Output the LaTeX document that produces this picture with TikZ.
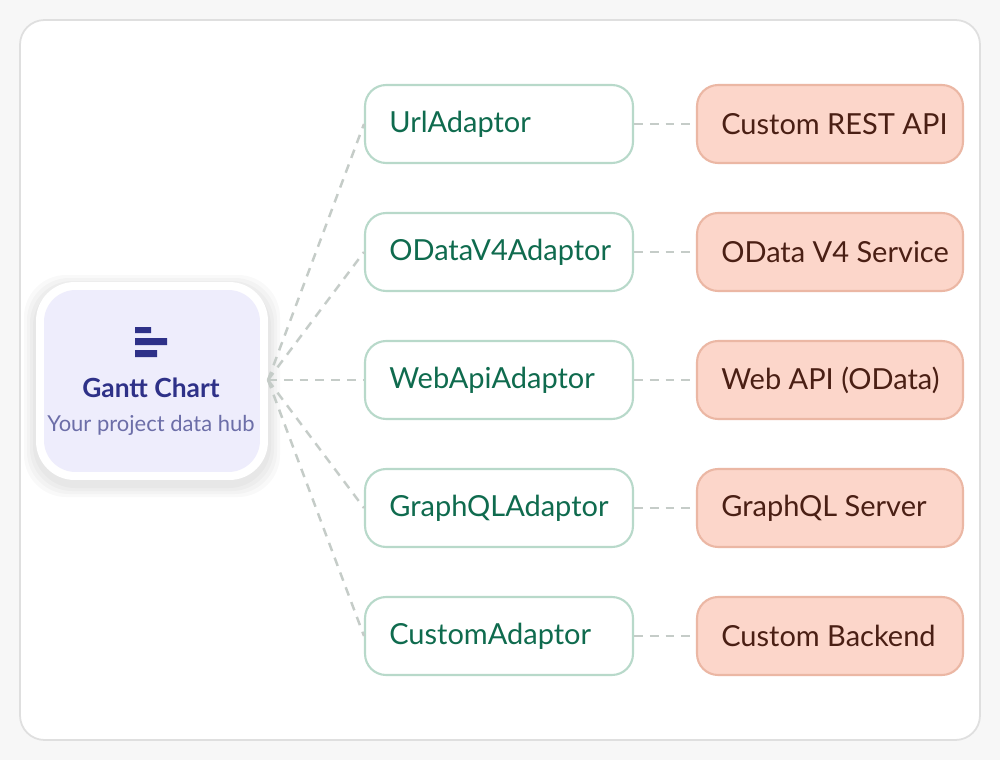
\documentclass[tikz,border=0pt]{standalone}
\usepackage{fontspec}
\setmainfont{Lato}
\usetikzlibrary{positioning}
\definecolor{hubfill}{HTML}{EEEDFC}
\definecolor{navy}{HTML}{2E3188}
\definecolor{hubsub}{HTML}{6C6EA8}
\definecolor{adline}{HTML}{B8D9CA}
\definecolor{adtext}{HTML}{0F6B4E}
\definecolor{befill}{HTML}{FCD6CA}
\definecolor{beline}{HTML}{EBB7A4}
\definecolor{betext}{HTML}{4A1F14}
\definecolor{dash}{HTML}{C5CCC8}

\begin{document}
\begin{tikzpicture}[x=0.02cm,y=-0.02cm,% pixel grid, y downwards
		every node/.style={font=\fontsize{16.5}{19}\selectfont},
		adaptor/.style={rectangle,rounded corners=12pt,draw=adline,line width=1.2pt,fill=white,
			minimum width=5.36cm,minimum height=1.56cm},
		backend/.style={rectangle,rounded corners=12pt,draw=beline,line width=1.2pt,fill=befill,
			minimum width=5.32cm,minimum height=1.56cm},
		lbl/.style={anchor=west,inner sep=0pt,xshift=0.5cm},
		link/.style={draw=dash,line width=1.4pt,dash pattern=on 5pt off 4pt}
	]
	\fill[gray!6] (0,0) rectangle (1000,760);
	\draw[gray!25,fill=white,line width=1pt,rounded corners=14pt] (20,20) rectangle (980,740);
	% hub, with a soft shadow
	\foreach \s in {12,9,6,3}
		\fill[black,opacity=0.025,rounded corners=24pt] (36-\s,282-\s+5) rectangle (268+\s,480+\s+5);
	\node[rectangle,rounded corners=22pt,fill=white,minimum width=4.64cm,minimum height=3.96cm] (hubout) at (152,381) {};
	\node[rectangle,rounded corners=18pt,fill=hubfill,minimum width=4.32cm,minimum height=3.64cm] (hub) at (152,381) {};
	\fill[navy] (135,327) rectangle (151,333) (135,338) rectangle (167,345) (135,350) rectangle (157,357);
	\node[text=navy,font=\fontsize{15}{18}\selectfont\bfseries] (title) at (151,388) {Gantt Chart};
	\node[text=hubsub,font=\fontsize{12.5}{15}\selectfont] (sub) at (151,425) {Your project data hub};
	\coordinate (src) at (268,380);
	% adaptors and services
	\foreach \y/\ad/\be [count=\i] in {124/UrlAdaptor/Custom REST API,252/ODataV4Adaptor/OData V4 Service,
		380/WebApiAdaptor/Web API (OData),508/GraphQLAdaptor/GraphQL Server,636/CustomAdaptor/Custom Backend}{
		\node[adaptor] (ad\i) at (499,\y) {};
		\node[lbl,text=adtext] (adl\i) at (ad\i.west) {\ad};
		\node[backend] (be\i) at (830,\y) {};
		\node[lbl,text=betext] (bel\i) at (be\i.west) {\be};
		\draw[link] (src) -- (ad\i.west);
		\draw[link] (ad\i) -- (be\i);
	}
\end{tikzpicture}
\end{document}
